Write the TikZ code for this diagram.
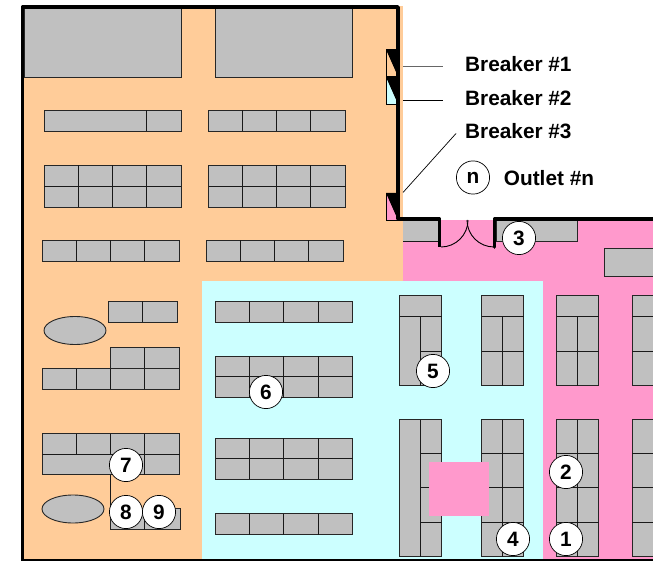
\documentclass[tikz,border=0pt]{standalone}
\usepackage{fontspec}
\usetikzlibrary{shapes.geometric}
\setmainfont{Liberation Sans}
\definecolor{roomorange}{HTML}{FFCC99}
\definecolor{roomcyan}{HTML}{CCFFFF}
\definecolor{roompink}{HTML}{FF99CC}
\definecolor{shelfgray}{HTML}{C0C0C0}
\tikzset{
  shelf/.style={fill=shelfgray,draw=black!85,line width=0.9pt},
  divider/.style={draw=black!90,line width=0.8pt},
  wall/.style={draw=black,line width=3.6pt,line join=round,line cap=round},
  door/.style={draw=black,line width=0.9pt},
  leader/.style={draw=black,line width=0.7pt},
  outlet/.style={circle,fill=white,draw=black,line width=0.7pt,minimum size=33.2pt,inner sep=0pt,font=\fontsize{20.8}{24}\selectfont\bfseries},
  legendtext/.style={anchor=base west,inner sep=0pt,font=\fontsize{20.8}{24}\selectfont\bfseries},
  breaker/.style={draw=black,line width=0.8pt},
}
\newcommand{\hshelf}[5]{% x1,y1,x2,y2, x dividers
  \draw[shelf] (#1,#2) rectangle (#3,#4);
  \foreach \dx in {#5} {\draw[divider] (\dx,#2) -- (\dx,#4);}
}
\newcommand{\shelfrule}[3]{\draw[divider] (#1,#3) -- (#2,#3);}
\begin{document}
\begin{tikzpicture}[x=1pt,y=-1pt]
\useasboundingbox (0,0) rectangle (653,561);
\clip (0,0) rectangle (653,561);
% rooms
\fill[roomorange] (23,6) rectangle (403,560);
\fill[roompink] (403,220) rectangle (653,560);
\fill[roomcyan] (202,281) rectangle (543,560);
% big blocks
\draw[shelf] (24,8) rectangle (181,77);
\draw[shelf] (215,8) rectangle (352,77);
% orange room shelves
\hshelf{44}{110.5}{181}{131.5}{146.5}
\hshelf{208.5}{110.5}{345.5}{131.5}{242.5,276.5,310.5}
\hshelf{44}{165.5}{181}{207}{78.5,112.5,146.5}
\shelfrule{44}{181}{186.5}
\hshelf{208.5}{165.5}{345.5}{207}{242.5,276.5,310.5}
\shelfrule{208.5}{345.5}{186.5}
\hshelf{42}{240.5}{179.5}{261.5}{76.5,110.5,144.5}
\hshelf{206.5}{240.5}{343.5}{261.5}{240.5,274.5,308.5}
\hshelf{108.5}{301}{177.5}{322}{142.5}
\node[shelf,ellipse,minimum width=62pt,minimum height=28pt,inner sep=0pt] (tableA) at (75,330.5) {};
\hshelf{110.5}{347.5}{179.5}{368.5}{144.5}
\hshelf{42}{368.5}{179.5}{389}{76.5,110.5,144.5}
\hshelf{42}{433.5}{179.5}{474.5}{144.5}
\shelfrule{42}{179.5}{454.5}
\draw[divider] (76.5,433.5) -- (76.5,454.5);
\draw[divider] (110.5,433.5) -- (110.5,454.5);
\draw[divider] (110.5,474.5) -- (110.5,510);
\hshelf{110.5}{508.5}{180}{529.5}{144.5}
\node[shelf,ellipse,minimum width=62pt,minimum height=28pt,inner sep=0pt] (tableB) at (73,509) {};
% cyan room horizontal shelves
\hshelf{215.5}{301}{352.5}{322}{249.5,283.5,318.5}
\hshelf{215.5}{356}{352.5}{397.5}{249.5,283.5,318.5}
\shelfrule{215.5}{352.5}{376.5}
\hshelf{215.5}{438}{352.5}{479}{249.5,283.5,318.5}
\shelfrule{215.5}{352.5}{458.5}
\hshelf{215.5}{513.5}{352.5}{534.5}{249.5,283.5,318.5}
% upper vertical shelves
\draw[shelf] (399.5,295.5) rectangle (441.5,385.5);
\shelfrule{399.5}{441.5}{316.5}
\draw[divider] (420.5,316.5) -- (420.5,385.5);
\shelfrule{420.5}{441.5}{351}
\foreach \xa/\xm/\xb in {481.5/502.5/523.5,556.5/577.5/598.5}{
  \draw[shelf] (\xa,295.5) rectangle (\xb,385.5);
  \shelfrule{\xa}{\xb}{316.5}
  \shelfrule{\xa}{\xb}{351}
  \draw[divider] (\xm,316.5) -- (\xm,385.5);
}
\draw[shelf] (632,295.5) rectangle (674,385.5);
\shelfrule{632}{674}{316.5}
\shelfrule{632}{674}{351}
% lower vertical shelves
\draw[shelf] (399.5,419.5) rectangle (441.5,556.5);
\draw[divider] (420.5,419.5) -- (420.5,556.5);
\shelfrule{420.5}{441.5}{453.7}
\shelfrule{420.5}{441.5}{487.7}
\shelfrule{420.5}{441.5}{522.3}
\foreach \xa/\xm/\xb in {481.5/502.5/523.5,556.5/577.5/598.5}{
  \draw[shelf] (\xa,419.5) rectangle (\xb,556.5);
  \draw[divider] (\xm,419.5) -- (\xm,556.5);
  \shelfrule{\xa}{\xb}{453.7}
  \shelfrule{\xa}{\xb}{487.7}
  \shelfrule{\xa}{\xb}{522.3}
}
\draw[shelf] (632,419.5) rectangle (674,556.5);
\shelfrule{632}{674}{453.7}
\shelfrule{632}{674}{487.7}
\shelfrule{632}{674}{522.3}
% pink patch
\fill[roompink] (429,462) rectangle (489,516);
% pink room shelves
\draw[shelf] (604.5,248) rectangle (660,276);
\fill[shelfgray] (403,220) rectangle (438,241);
\shelfrule{403}{438}{241}
\draw[shelf] (496,220) rectangle (577.5,241);
% breakers
\draw[breaker,fill=roomorange] (386,49.5) rectangle (398,76.5);
\fill[black] (386,49.5) -- (398,49.5) -- (398,76.5) -- cycle;
\draw[breaker,fill=roomcyan] (386,77) rectangle (398,104);
\fill[black] (386,77) -- (398,77) -- (398,104) -- cycle;
\draw[breaker,fill=roompink] (386,193) rectangle (398,220);
\fill[black] (386,193) -- (398,193) -- (398,220) -- cycle;
% walls
\draw[wall,line cap=butt] (22.5,561) -- (22.5,7) -- (398,7) -- (398,219) -- (439.5,219) -- (439.5,247);
\draw[wall] (494.5,247) -- (494.5,219) -- (660,219);
\draw[draw=black,line width=1.5pt] (22,560) -- (653,560);
% doors
\draw[door] (441,247) .. controls (455.9,247) and (468,234.9) .. (468,220);
\draw[door] (494,247) .. controls (479.1,247) and (467,234.9) .. (467,220);
% legend
\node[legendtext] (b1) at (465,71.7) {Breaker \#1};
\node[legendtext] (b2) at (465,105.2) {Breaker \#2};
\node[legendtext] (b3) at (465,138.7) {Breaker \#3};
\node[legendtext] (ol) at (503.7,185.7) {Outlet \#n};
\coordinate (l1a) at (403,67); \coordinate (l1b) at (443,67);
\coordinate (l2a) at (403,100); \coordinate (l2b) at (443,100);
\coordinate (l3a) at (403,192.5); \coordinate (l3b) at (456,133.5);
\draw[leader,draw=black!60,line width=1pt] (l1a) -- (l1b);
\draw[leader] (l2a) -- (l2b);
\draw[leader] (l3a) -- (l3b);
% outlets
\node[outlet] (on) at (473,177.5) {n};
\node[outlet] (o1) at (566,539) {1};
\node[outlet] (o2) at (566,472) {2};
\node[outlet] (o3) at (519,238) {3};
\node[outlet] (o4) at (513,539) {4};
\node[outlet] (o5) at (433,371) {5};
\node[outlet] (o6) at (266,392) {6};
\node[outlet] (o7) at (126,465) {7};
\node[outlet] (o8) at (126,512) {8};
\node[outlet] (o9) at (159,512) {9};
\end{tikzpicture}
\end{document}
